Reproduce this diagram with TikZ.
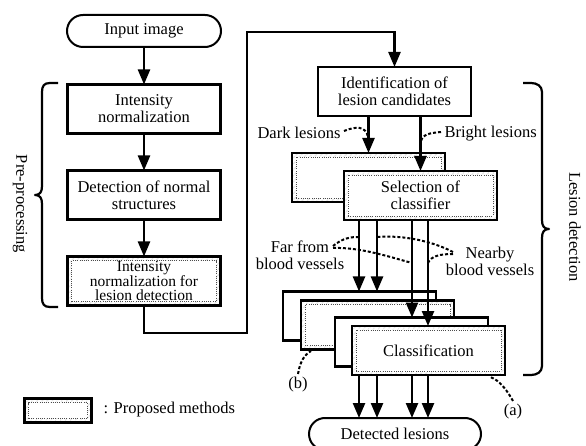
\documentclass[tikz,border=0pt]{standalone}
\usepackage{fontspec}
\setmainfont{Liberation Serif}
\usetikzlibrary{arrows.meta,patterns.meta}
\begin{document}
\begin{tikzpicture}[x=1pt,y=-1pt,
  font=\fontsize{16.5}{17}\selectfont,
  box/.style={draw,line width=2.6pt,fill=white,minimum width=153pt,minimum height=49pt,inner sep=0pt,outer sep=0pt,align=center},
  stadium/.style={draw,line width=2pt,fill=white,rounded corners=16pt,minimum width=154pt,minimum height=32pt,inner sep=0pt,outer sep=0pt,align=center},
  hatch/.style={box,path picture={%
    \fill[pattern={Lines[angle=50,distance=4pt,line width=0.45pt]},pattern color=black!70]
      (path picture bounding box.south west) rectangle (path picture bounding box.north east);
    \fill[white] ([shift={(4.2pt,4.2pt)}]path picture bounding box.south west) rectangle ([shift={(-4.2pt,-4.2pt)}]path picture bounding box.north east);
    \draw[black!70,line width=0.5pt,dash pattern=on 0.8pt off 1.4pt] ([shift={(4.2pt,4.2pt)}]path picture bounding box.south west) rectangle ([shift={(-4.2pt,-4.2pt)}]path picture bounding box.north east);
  }},
  arr/.style={line width=2.4pt,-{Triangle[length=15pt,width=12pt]}},
  dsh/.style={line width=2pt,dash pattern=on 3pt off 2pt},
  brc/.style={line width=2.2pt,line join=round}
]
\clip (0,0) rectangle (586,446);
% left column
\node[stadium] (in) at (144,31) {Input image};
\node[box] (n1) at (144,109) {Intensity\\normalization};
\node[box] (n2) at (144,195) {Detection of normal\\structures};
\node[hatch,font=\fontsize{15.5}{14.5}\selectfont] (n3) at (144,281) {Intensity\\normalization for\\lesion detection};
% right column
\node[box] (id) at (394.5,91.5) {Identification of\\lesion candidates};
\node[hatch] (selB) at (368.5,177.5) {};
\node[hatch] (sel) at (420.5,195.5) {Selection of\\classifier};
\node[box] (c1) at (359.5,316) {};
\node[hatch] (c2) at (377.5,325) {};
\node[box] (c3) at (411.5,342) {};
\node[hatch] (c4) at (428.5,350.5) {Classification};
\node[stadium,minimum width=172pt] (out) at (395,434) {Detected lesions};
% labels
\node[anchor=east] (dark) at (344,133) {Dark lesions};
\node[anchor=west] (bright) at (441,134) {Bright lesions};
\node[align=center] (far) at (300,255) {Far from\\blood vessels};
\node[align=center] (near) at (490,261) {Nearby\\blood vessels};
\node (la) at (513,412) {(a)};
\node (lb) at (298,385) {(b)};
\node[rotate=-90] (pre) at (20,204) {Pre-processing};
\node[rotate=-90] (les) at (575,227) {Lesion detection};
\node[hatch,minimum width=67pt,minimum height=24pt] (leg) at (58,410.5) {};
\node[anchor=west] (legt) at (100,410) {: Proposed methods};
% helper coordinates
\coordinate (xa) at (359,0);
\coordinate (xb) at (377,0);
\coordinate (xc) at (412,0);
\coordinate (xd) at (428,0);
\coordinate (p1) at (247,333);
\coordinate (p2) at (247,32);
% arrows
\draw[arr] (in) -- (n1);
\draw[arr] (n1) -- (n2);
\draw[arr] (n2) -- (n3);
\draw[arr] (n3.south) |- (p1) -- (p2) -| (id.north);
\draw[arr] (selB.north |- id.south) -- (selB.north);
\draw[arr] (sel.north |- id.south) -- (sel.north);
\draw[arr] (xa |- sel.south) -- (xa |- c1.north);
\draw[arr] (xb |- sel.south) -- (xb |- c1.north);
\draw[arr] (xc |- sel.south) -- (xc |- c3.north);
\draw[arr] (xd |- sel.south) -- (xd |- c4.north);
\foreach \c in {xa,xb,xc,xd} \draw[arr] (\c |- c4.south) -- (\c |- out.north);
% dashed pointers
\coordinate (dk) at (368,137);
\coordinate (bk) at (421,141);
\coordinate (fs1) at (333,246);
\coordinate (fs2) at (333,248);
\coordinate (ns1) at (453,252);
\coordinate (ns2) at (453,254);
\draw[dsh] ([yshift=2pt]dark.east) .. controls (356,126) and (366,126) .. (dk);
\draw[dsh] ([yshift=2pt]bright.west) .. controls (430,133) and (423,134) .. (bk);
\draw[dsh] (fs1) .. controls (343,238) and (350,237) .. (359,237);
\draw[dsh] (fs2) .. controls (360,247) and (390,257) .. (412,263);
\draw[dsh] (ns1) .. controls (430,240) and (400,235) .. (377,237);
\draw[dsh] (ns2) .. controls (440,254) and (431,256) .. (428,263);
\draw[dsh] (la.north) .. controls (508,392) and (500,380) .. (490,377);
\draw[dsh] (lb.north) .. controls (300,362) and (304,355) .. (311,351);
% braces
\draw[brc] (58,83) -- (50,83) .. controls (44,83) and (42,86) .. (42,92) -- (42,186)
  .. controls (42,192) and (40,195) .. (35,195) .. controls (40,195) and (42,198) .. (42,204)
  -- (42,298) .. controls (42,304) and (44,307) .. (50,307) -- (58,307);
\draw[brc] (523,83) -- (531,83) .. controls (537,83) and (542,86) .. (542,92) -- (542,220)
  .. controls (542,226) and (544,229) .. (549,229) .. controls (544,229) and (542,232) .. (542,238)
  -- (542,366) .. controls (542,372) and (537,375) .. (531,375) -- (523,375);
\end{tikzpicture}
\end{document}
